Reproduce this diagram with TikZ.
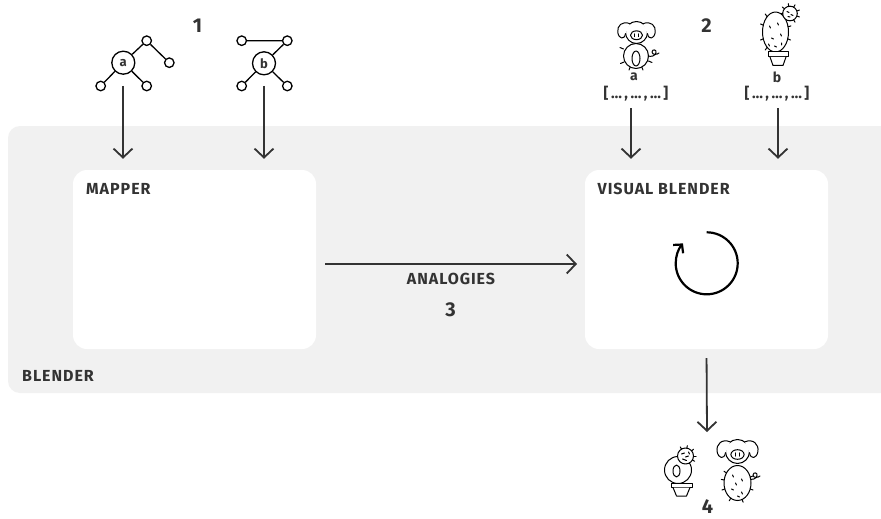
\documentclass[tikz,border=0pt]{standalone}
\usepackage{fontspec}
\setmainfont{Fira Sans}
\newfontfamily\spaced{Fira Sans}[LetterSpace=6.0]
\usetikzlibrary{arrows.meta}
\definecolor{ink}{HTML}{333333}
\definecolor{panel}{HTML}{F1F1F1}
\tikzset{
  flow/.style={draw=ink, line width=1.8pt, -{Straight Barb[length=9pt,width=19pt]}},
  stagebox/.style={fill=white, rounded corners=14pt, minimum width=243pt, minimum height=179pt, inner sep=0pt},
  boxtitle/.style={anchor=base west, text=ink, inner sep=0pt, font=\spaced\fontsize{16}{18}\selectfont\bfseries},
  stepnum/.style={text=ink, inner sep=0pt, font=\fontsize{20}{22}\selectfont\bfseries},
  treeleaf/.style={circle, draw=black, line width=1.3pt, minimum size=9.5pt, inner sep=0pt, fill=white},
  treeroot/.style={circle, draw=black, line width=1.3pt, minimum size=23pt, inner sep=0pt, fill=white, text=ink, font=\fontsize{13}{14}\selectfont\bfseries},
  treeedge/.style={draw=black, line width=1.3pt},
  sketch/.style={draw=black, line width=1pt, line cap=round, line join=round},
  vecfont/.style={text=ink, inner sep=0pt, font=\fontsize{15}{17}\selectfont\bfseries},
  pighead/.pic={
    \draw[sketch, fill=white] (0,0) ellipse[x radius=10, y radius=10];
    \draw[sketch, fill=white] (-6,-8) .. controls (-13,-11) and (-18,-6) .. (-17,0)
          .. controls (-16,6) and (-11,7) .. (-10,1);
    \draw[sketch, fill=white] (6,-8) .. controls (13,-11) and (18,-6) .. (17,0)
          .. controls (16,6) and (11,7) .. (10,1);
    \draw[sketch, fill=white] (0,2.5) ellipse[x radius=5.5, y radius=4];
    \draw[sketch] (-1.8,1.2) -- (-1.8,3.8) (1.8,1.2) -- (1.8,3.8);
  },
  pigtail/.pic={
    \draw[sketch] (0,0) .. controls (3,1) and (7,0) .. (8,-3)
          .. controls (9,-7) and (4,-7) .. (4,-4) .. controls (4,-1) and (9,-1) .. (11,-3);
  }
}
\begin{document}
\begin{tikzpicture}[x=1pt, y=-1pt]
  \useasboundingbox (0,0) rectangle (881,519);
  \fill[white] (0,0) rectangle (881,519);
  \fill[panel, rounded corners=12pt] (8,126) rectangle (900,393);

  % stage boxes
  \node[stagebox] (mapper) at (194.5,259.5) {};
  \node[stagebox] (visual) at (706.5,259.5) {};
  \node[boxtitle] (mappertitle) at (86,194) {MAPPER};
  \node[boxtitle] (visualtitle) at (597.5,194) {VISUAL BLENDER};
  \node[boxtitle] (blendertitle) at (22,381.5) {BLENDER};

  % step numbers
  \node[stepnum] (n1) at (197.5,26) {1};
  \node[stepnum] (n2) at (706.5,26) {2};
  \node[stepnum] (n3) at (450.5,310) {3};
  \node[stepnum] (n4) at (707.5,506.5) {4};

  % concept tree a
  \node[treeroot] (ra) at (123.3,62.7) {a};
  \node[treeleaf] (a1) at (146.7,40.7) {};
  \node[treeleaf] (a2) at (169.3,62.7) {};
  \node[treeleaf] (a3) at (100.7,86) {};
  \node[treeleaf] (a4) at (146.7,86) {};
  \draw[treeedge] (ra) -- (a1) -- (a2) (ra) -- (a3) (ra) -- (a4);

  % concept tree b
  \node[treeroot] (rb) at (264,63.3) {b};
  \node[treeleaf] (b1) at (241.7,40.7) {};
  \node[treeleaf] (b2) at (287.3,40.7) {};
  \node[treeleaf] (b3) at (241.7,86) {};
  \node[treeleaf] (b4) at (287.3,86) {};
  \draw[treeedge] (b1) -- (b2) -- (rb) (rb) -- (b3) (rb) -- (b4);

  % visual inputs: pig
  \draw[sketch, fill=white] (636,56) circle[radius=12.5];
  \draw[sketch] (636,58.5) ellipse[x radius=4, y radius=7.5];
  \draw[sketch] (623.5,49) -- (620,47.5) (624,62) -- (620.5,63.5)
                (648.5,61) -- (652,62.5) (630,67.5) -- (629,70) (642,67.5) -- (643,70);
  \pic at (648,56) {pigtail};
  \pic[scale=1.1] at (636.5,32.5) {pighead};

  % visual inputs: cactus
  \begin{scope}[shift={(775.5,32)}]
    \draw[sketch, fill=white] (0,0) ellipse[x radius=13, y radius=20];
    \foreach \a in {200,230,160,130,345,20,300}
      \draw[sketch] (\a:13 and 20) -- (\a:16 and 23.5);
    \draw[sketch] (-6,-6) -- (-5,-4) (2,-9) -- (3,-7) (-4,6) -- (-2,7)
                  (5,2) -- (6,4) (-1,14) -- (1,15) (6,11) -- (6,13) (-7,12) -- (-6,14);
  \end{scope}
  \begin{scope}[shift={(790,13.5)}]
    \draw[sketch, fill=white] (0,0) circle[radius=7.3];
    \foreach \a in {-100,-60,-20,20,60,-140,180}
      \draw[sketch] (\a:7.3) -- (\a:10);
    \draw[sketch] (-3,-2) -- (-1,-1) (1,1) -- (3,2) (-2,3) -- (0,3.5);
  \end{scope}
  \draw[sketch, fill=white] (768,52) rectangle (788,57);
  \draw[sketch, fill=white] (770,57) -- (773,65.5) -- (783,65.5) -- (786,57);

  % feature vectors
  \node[vecfont, font=\fontsize{14}{15}\selectfont\bfseries] (la) at (634,77) {a};
  \node[vecfont, font=\fontsize{14}{15}\selectfont\bfseries] (lb) at (777,77) {b};
  \node[vecfont] (va) at (636,93.5) {[\,…\,,\,…\,,\,…\,]};
  \node[vecfont] (vb) at (777,93.5) {[\,…\,,\,…\,,\,…\,]};

  % blended results: pot, pig-bodied cactus
  \draw[sketch, fill=white] (678,470) circle[radius=13.5];
  \draw[sketch] (676.5,471) ellipse[x radius=3.5, y radius=6];
  \begin{scope}[shift={(685.5,456)}]
    \draw[sketch, fill=white] (0,0) circle[radius=8];
    \foreach \a in {-120,-80,-40,0,30}
      \draw[sketch] (\a:8) -- (\a:10.5);
    \draw[sketch] (-4,-2) -- (-1,-3) (0,1) -- (3,0) (-3,3) -- (1,4.5) (3,-4) -- (4,-2);
  \end{scope}
  \draw[sketch, fill=white] (671,483) rectangle (692,487.5);
  \draw[sketch, fill=white] (673,487.5) -- (676.5,496) -- (686.5,496) -- (690,487.5);

  % blended results: pig with cactus body
  \pic at (749,479) {pigtail};
  \begin{scope}[shift={(737.5,483)}]
    \draw[sketch, fill=white] (0,0) ellipse[x radius=13.5, y radius=17.5];
    \foreach \a in {190,160,215,20,340,120,70}
      \draw[sketch] (\a:13.5 and 17.5) -- (\a:16.5 and 20.5);
    \draw[sketch] (-5,-8) -- (-4,-6) (4,-4) -- (5,-2) (-6,6) -- (-4,7)
                  (4,9) -- (5,11) (0,13) -- (2,14) (-2,0) -- (-1,2);
  \end{scope}
  \pic[scale=1.2] at (737.5,451.5) {pighead};

  % connectors
  \coordinate (inA) at (123,86);
  \coordinate (inB) at (264,86);
  \coordinate (inC) at (631,108);
  \coordinate (inD) at (778,108);
  \draw[flow, shorten >=11pt] (inA) -- (inA |- mapper.north);
  \draw[flow, shorten >=11pt] (inB) -- (inB |- mapper.north);
  \draw[flow, shorten >=11pt] (inC) -- (inC |- visual.north);
  \draw[flow, shorten >=11pt] (inD) -- (inD |- visual.north);

  \coordinate (anStart) at (325,264);
  \coordinate (anEnd) at (577,264);
  \draw[flow] (anStart) -- (anEnd);
  \node[boxtitle, anchor=center] (analog) at (451,278.5) {ANALOGIES};

  \coordinate (outEnd) at (707,432);
  \draw[flow, shorten <=9pt] (visual.south) -- (outEnd);

  % iteration symbol
  \coordinate (cyc) at (706.7,263.3);
  \draw[black, line width=2.2pt, -{Straight Barb[length=6pt,width=13pt]}]
    (cyc) ++(-90:31) arc[start angle=-90, end angle=220, radius=31];
\end{tikzpicture}
\end{document}
